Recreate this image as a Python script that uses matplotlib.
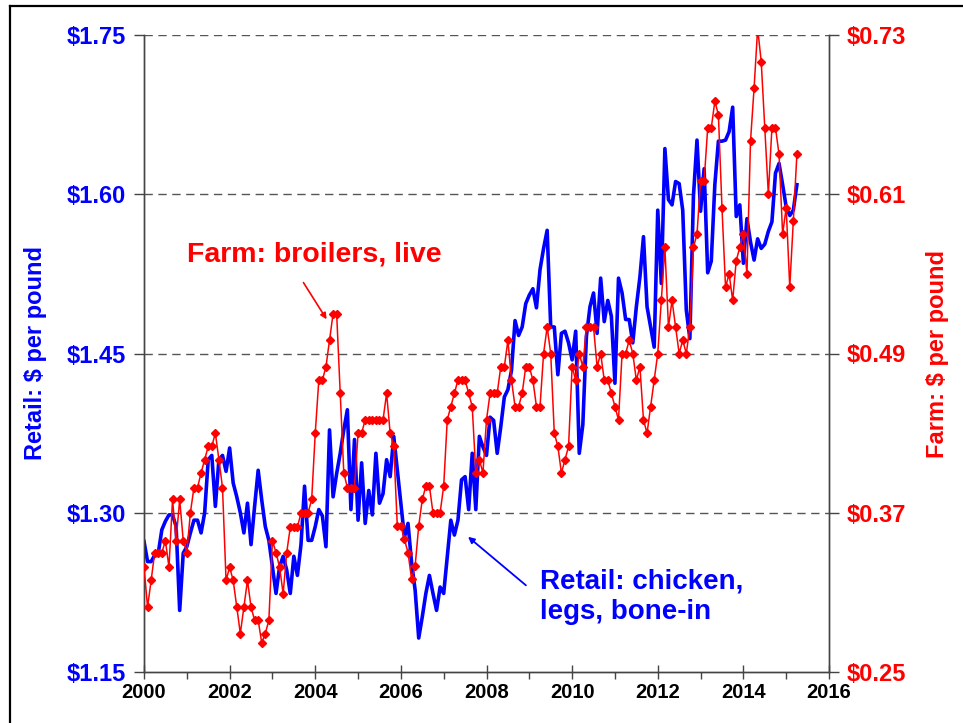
import numpy as np
import matplotlib
matplotlib.use("Agg")
import matplotlib.pyplot as plt
from matplotlib.lines import Line2D

plt.rcParams['font.family'] = ['Liberation Sans', 'DejaVu Sans']
plt.rcParams['font.weight'] = 'bold'

start_year = 2000

retail = [
    1.273, 1.254, 1.254, 1.260, 1.262, 1.284, 1.292, 1.298, 1.298, 1.287, 1.208, 1.262,
    1.268, 1.281, 1.293, 1.293, 1.281, 1.300, 1.350, 1.354, 1.306, 1.350, 1.354, 1.339,
    1.361, 1.328, 1.315, 1.300, 1.281, 1.309, 1.270, 1.306, 1.340, 1.312, 1.287, 1.274,
    1.249, 1.224, 1.249, 1.259, 1.246, 1.224, 1.259, 1.241, 1.270, 1.325, 1.274, 1.274,
    1.287, 1.303, 1.297, 1.268, 1.378, 1.315, 1.337, 1.356, 1.378, 1.397, 1.303, 1.369,
    1.293, 1.347, 1.290, 1.321, 1.298, 1.356, 1.309, 1.318, 1.350, 1.334, 1.372, 1.340,
    1.309, 1.277, 1.290, 1.253, 1.227, 1.182, 1.202, 1.224, 1.241, 1.224, 1.208, 1.230,
    1.224, 1.259, 1.293, 1.279, 1.293, 1.331, 1.334, 1.303, 1.356, 1.303, 1.372, 1.362,
    1.354, 1.390, 1.387, 1.356, 1.381, 1.409, 1.416, 1.434, 1.481, 1.467, 1.475, 1.497,
    1.505, 1.511, 1.493, 1.529, 1.549, 1.566, 1.475, 1.475, 1.430, 1.469, 1.471, 1.460,
    1.444, 1.471, 1.356, 1.383, 1.466, 1.494, 1.507, 1.469, 1.521, 1.480, 1.500, 1.485,
    1.422, 1.521, 1.507, 1.482, 1.482, 1.460, 1.494, 1.522, 1.560, 1.494, 1.475, 1.456,
    1.585, 1.516, 1.643, 1.595, 1.590, 1.612, 1.610, 1.585, 1.491, 1.464, 1.598, 1.651,
    1.584, 1.624, 1.526, 1.537, 1.609, 1.650, 1.650, 1.651, 1.659, 1.682, 1.579, 1.590,
    1.535, 1.577, 1.555, 1.538, 1.558, 1.549, 1.553, 1.565, 1.574, 1.620, 1.629, 1.609,
    1.588, 1.580, 1.585, 1.609,
]

farm = [
    0.329, 0.299, 0.319, 0.340, 0.340, 0.340, 0.349, 0.329, 0.380, 0.349, 0.380, 0.349,
    0.340, 0.370, 0.389, 0.389, 0.400, 0.410, 0.420, 0.420, 0.430, 0.410, 0.389, 0.319,
    0.329, 0.319, 0.299, 0.279, 0.299, 0.319, 0.299, 0.289, 0.289, 0.272, 0.279, 0.289,
    0.349, 0.340, 0.329, 0.309, 0.340, 0.359, 0.359, 0.359, 0.370, 0.370, 0.370, 0.380,
    0.430, 0.470, 0.470, 0.480, 0.500, 0.520, 0.520, 0.460, 0.400, 0.389, 0.389, 0.389,
    0.430, 0.430, 0.440, 0.440, 0.440, 0.440, 0.440, 0.440, 0.460, 0.430, 0.420, 0.360,
    0.360, 0.350, 0.340, 0.320, 0.330, 0.360, 0.380, 0.390, 0.390, 0.370, 0.370, 0.370,
    0.390, 0.440, 0.450, 0.460, 0.470, 0.470, 0.470, 0.460, 0.450, 0.400, 0.410, 0.400,
    0.440, 0.460, 0.460, 0.460, 0.480, 0.480, 0.500, 0.470, 0.450, 0.450, 0.460, 0.480,
    0.480, 0.470, 0.450, 0.450, 0.490, 0.510, 0.490, 0.430, 0.420, 0.400, 0.410, 0.420,
    0.480, 0.470, 0.490, 0.480, 0.510, 0.510, 0.510, 0.480, 0.490, 0.470, 0.470, 0.460,
    0.450, 0.440, 0.490, 0.490, 0.500, 0.490, 0.470, 0.480, 0.440, 0.430, 0.450, 0.470,
    0.490, 0.530, 0.570, 0.510, 0.530, 0.510, 0.490, 0.500, 0.490, 0.510, 0.570, 0.580,
    0.620, 0.620, 0.660, 0.660, 0.680, 0.670, 0.600, 0.540, 0.550, 0.530, 0.560, 0.570,
    0.580, 0.550, 0.650, 0.690, 0.735, 0.710, 0.660, 0.610, 0.660, 0.660, 0.640, 0.580,
    0.600, 0.540, 0.590, 0.640,
]

left_ticks = [1.15, 1.30, 1.45, 1.60, 1.75]
left_tick_labels = ['$1.15', '$1.30', '$1.45', '$1.60', '$1.75']
right_ticks = [0.25, 0.37, 0.49, 0.61, 0.73]
right_tick_labels = ['$0.25', '$0.37', '$0.49', '$0.61', '$0.73']
x_ticks = [2000, 2002, 2004, 2006, 2008, 2010, 2012, 2014, 2016]

retail_label = 'Retail: $ per pound'
farm_label = 'Farm: $ per pound'
farm_note = 'Farm: broilers, live'
retail_note = 'Retail: chicken,\nlegs, bone-in'

BLUE = '#0000FF'
RED = '#FF0000'
GRID = '#555555'

t_retail = start_year + np.arange(len(retail)) / 12.0
t_farm = start_year + np.arange(len(farm)) / 12.0

W, H = 963, 723
fig = plt.figure(figsize=(W / 100, H / 100), dpi=100)
ax = fig.add_axes([144 / W, 1 - 672 / H, (829 - 144) / W, (672 - 35) / H])
ax2 = ax.twinx()

ax.set_xlim(2000, 2016)
ax.set_ylim(1.15, 1.75)
ax2.set_ylim(0.25, 0.73)

for y in left_ticks[1:]:
    ax.axhline(y, color=GRID, lw=1.0, ls=(0, (6, 4)), zorder=1)

ax.plot(t_retail, retail, color=BLUE, lw=2.6, zorder=3, solid_joinstyle='round')
ax2.plot(t_farm, farm, color=RED, lw=1.1, marker='D', ms=3.6, mec=RED, mfc=RED, zorder=4)

for a in (ax, ax2):
    a.spines['top'].set_visible(False)
    for s in ('left', 'right', 'bottom'):
        a.spines[s].set_color('#444444')
        a.spines[s].set_linewidth(1.0)

ax.set_yticks(left_ticks)
ax.set_yticklabels(left_tick_labels, color=BLUE, fontsize=17, fontweight='bold')
ax2.set_yticks(right_ticks)
ax2.set_yticklabels(right_tick_labels, color=RED, fontsize=17, fontweight='bold')
ax.tick_params(axis='y', direction='out', length=7, width=1, color='#444444', pad=6)
ax2.tick_params(axis='y', direction='out', length=7, width=1, color='#444444', pad=6)

ax.set_xticks(x_ticks)
ax.set_xticklabels([str(v) for v in x_ticks], fontsize=14.5, fontweight='bold', color='black')
ax.set_xticks(np.arange(2001, 2016, 2), minor=True)
ax.tick_params(axis='x', which='major', direction='inout', length=10, width=1, color='#444444', pad=3)
ax.tick_params(axis='x', which='minor', direction='out', length=5, width=1, color='#444444')

ax.set_ylabel(retail_label, color=BLUE, fontsize=17, fontweight='bold')
ax.yaxis.set_label_coords((47 - 144) / 685, 0.5)
ax2.set_ylabel(farm_label, color=RED, fontsize=17, fontweight='bold', rotation=90)
ax2.yaxis.set_label_coords((926 - 144) / 685, 0.5)

ax.text(2001.0, 1.543, farm_note, color=RED, fontsize=20.5, fontweight='bold',
        ha='left', va='center', zorder=5)
ax.annotate('', xy=(2004.30, 1.480), xytext=(2003.69, 1.519),
            arrowprops=dict(arrowstyle='-|>', color=RED, lw=1.2, mutation_scale=9), zorder=5)

ax.text(2009.25, 1.221, retail_note, color=BLUE, fontsize=20, fontweight='bold',
        ha='left', va='center', linespacing=1.25, zorder=5)
ax.annotate('', xy=(2007.52, 1.279), xytext=(2008.97, 1.230),
            arrowprops=dict(arrowstyle='-|>', color=BLUE, lw=1.3, mutation_scale=9), zorder=5)

# outer frame (left and top edges visible)
fig.add_artist(Line2D([9.5 / W, 9.5 / W], [0, 1 - 5.5 / H], color='black', lw=1.6,
                      transform=fig.transFigure))
fig.add_artist(Line2D([9.5 / W, 1], [1 - 5.5 / H, 1 - 5.5 / H], color='black', lw=1.6,
                      transform=fig.transFigure))

fig.savefig('out.png', dpi=100)
